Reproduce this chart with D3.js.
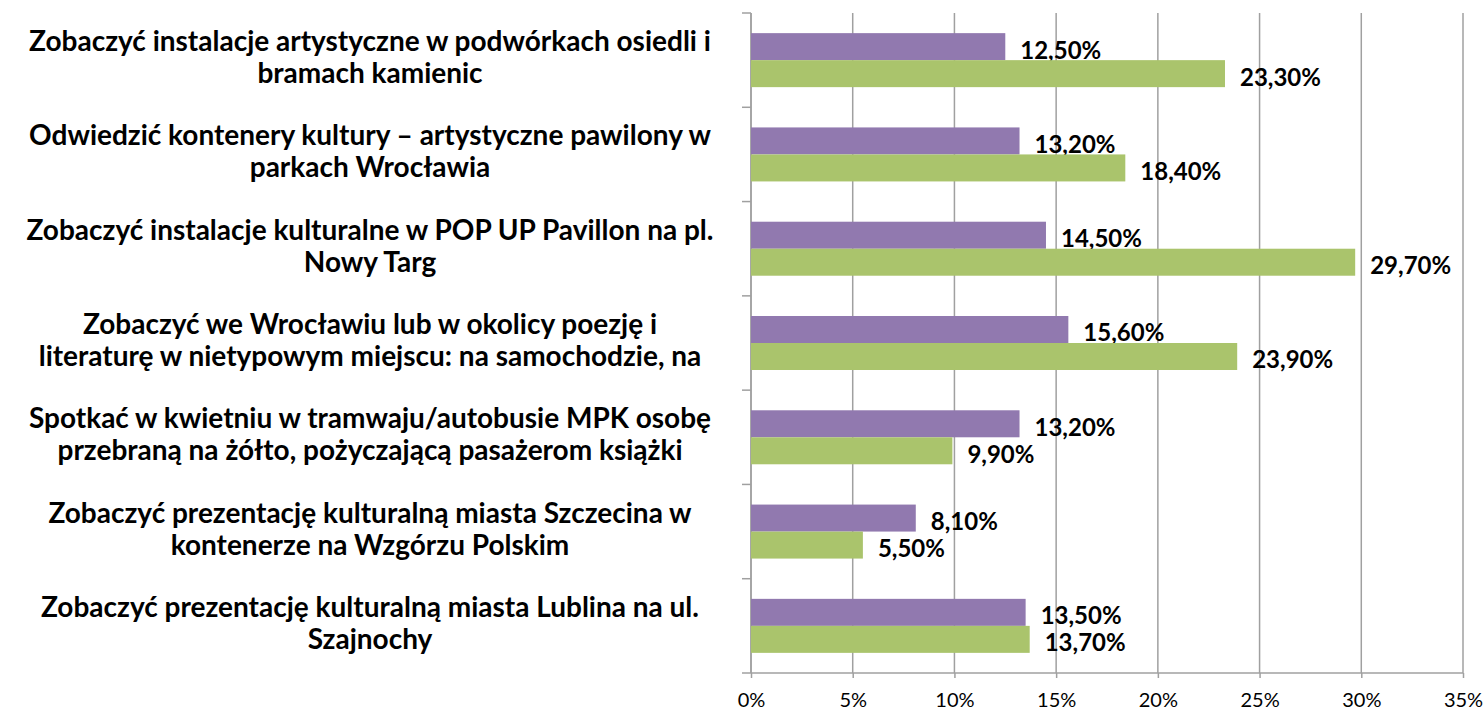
<!DOCTYPE html>
<html>
<head>
<meta charset="utf-8">
<script src="https://cdn.jsdelivr.net/npm/d3@7"></script>
<style>
  body { margin: 0; background: #fff; }
  svg { display: block; font-family: Lato, "Open Sans", sans-serif; }
</style>
</head>
<body>
<div id="chart"></div>
<script>
var categories = [
    ["Zobaczyć instalacje artystyczne w podwórkach osiedli i", "bramach kamienic"],
    ["Odwiedzić kontenery kultury – artystyczne pawilony w", "parkach Wrocławia"],
    ["Zobaczyć instalacje kulturalne w POP UP Pavillon na pl.", "Nowy Targ"],
    ["Zobaczyć we Wrocławiu lub w okolicy poezję i", "literaturę w nietypowym miejscu: na samochodzie, na"],
    ["Spotkać w kwietniu w tramwaju/autobusie MPK osobę", "przebraną na żółto, pożyczającą pasażerom książki"],
    ["Zobaczyć prezentację kulturalną miasta Szczecina w", "kontenerze na Wzgórzu Polskim"],
    ["Zobaczyć prezentację kulturalną miasta Lublina na ul.", "Szajnochy"]
];
var purpleValues = [12.5, 13.2, 14.5, 15.6, 13.2, 8.1, 13.5];
var greenValues  = [23.3, 18.4, 29.7, 23.9, 9.9, 5.5, 13.7];
var xTicks = [0, 5, 10, 15, 20, 25, 30, 35];
var seriesNames = ["purple", "green"];
var seriesColors = ["#9179AF", "#AAC46C"];

var width = 1484,
    height = 712;
var margin = {top: 13, right: 21, bottom: 39, left: 751};

var svg = d3.select("#chart").append("svg")
    .attr("width", width)
    .attr("height", height);

var x = d3.scaleLinear()
    .domain([0, 35])
    .range([margin.left, width - margin.right]);

var idx = categories.map(function(d, i) { return i; });
var y = d3.scaleBand()
    .domain(idx)
    .range([margin.top, height - margin.bottom])
    .paddingInner(0)
    .paddingOuter(0);

var ySub = d3.scaleBand()
    .domain(seriesNames)
    .range([0, y.bandwidth()])
    .paddingInner(0)
    .paddingOuter(0.746);

var gridColor = "#A0A0A0";

// vertical grid lines
svg.append("g")
    .selectAll("line")
    .data(xTicks)
    .enter().append("line")
    .attr("x1", function(d) { return x(d); })
    .attr("x2", function(d) { return x(d); })
    .attr("y1", margin.top)
    .attr("y2", height - margin.bottom)
    .attr("stroke", gridColor)
    .attr("stroke-width", 1.5);

// bottom axis
var xAxis = svg.append("g")
    .attr("transform", "translate(0," + (height - margin.bottom) + ")")
    .call(d3.axisBottom(x).tickValues(xTicks).tickSize(5).tickPadding(15)
        .tickFormat(function(d) { return d + "%"; }));
xAxis.select(".domain").attr("stroke", gridColor).attr("stroke-width", 1.5)
    .attr("d", "M" + x(0) + ",0H" + x(35));
xAxis.selectAll(".tick line").attr("stroke", gridColor).attr("stroke-width", 1.5);
xAxis.selectAll(".tick text")
    .attr("fill", "#000")
    .style("font-size", "20px")
    .style("font-family", "Lato, sans-serif");

// left axis with ticks between categories
var leftAxis = svg.append("g");
leftAxis.append("line")
    .attr("x1", x(0)).attr("x2", x(0))
    .attr("y1", margin.top).attr("y2", height - margin.bottom)
    .attr("stroke", gridColor).attr("stroke-width", 1.5);
var bounds = idx.map(function(i) { return y(i); }).concat([y.range()[1]]);
leftAxis.selectAll("line.tk")
    .data(bounds)
    .enter().append("line")
    .attr("class", "tk")
    .attr("x1", x(0) - 9).attr("x2", x(0))
    .attr("y1", function(d) { return d; })
    .attr("y2", function(d) { return d; })
    .attr("stroke", gridColor).attr("stroke-width", 1.5);

// bars
var rows = idx.map(function(i) {
    return {i: i, vals: [purpleValues[i], greenValues[i]]};
});

var group = svg.append("g").selectAll("g.row")
    .data(rows)
    .enter().append("g")
    .attr("class", "row")
    .attr("transform", function(d) { return "translate(0," + y(d.i) + ")"; });

var bar = group.selectAll("g.bar")
    .data(function(d) {
        return d.vals.map(function(v, k) { return {s: seriesNames[k], v: v, k: k}; });
    })
    .enter().append("g")
    .attr("class", "bar");

bar.append("rect")
    .attr("x", x(0))
    .attr("y", function(d) { return ySub(d.s); })
    .attr("width", function(d) { return x(d.v) - x(0); })
    .attr("height", ySub.bandwidth())
    .attr("fill", function(d) { return seriesColors[d.k]; });

bar.append("text")
    .attr("x", function(d) { return x(d.v) + 15; })
    .attr("y", function(d) { return ySub(d.s) + ySub.bandwidth() / 2 + 12; })
    .style("font-size", "24px")
    .style("font-weight", "bold")
    .attr("fill", "#000")
    .text(function(d) { return d.v.toFixed(2).replace(".", ",") + "%"; });

// category labels
var labels = svg.append("g").selectAll("text.cat")
    .data(rows)
    .enter().append("text")
    .attr("class", "cat")
    .attr("text-anchor", "middle")
    .style("font-size", "28px")
    .style("font-weight", "bold")
    .attr("fill", "#000");

labels.selectAll("tspan")
    .data(function(d) { return categories[d.i].map(function(t, k) { return {t: t, k: k, i: d.i}; }); })
    .enter().append("tspan")
    .attr("x", 370)
    .attr("y", function(d) { return y(d.i) + y.bandwidth() / 2 - 9 + d.k * 32; })
    .text(function(d) { return d.t; });
</script>
</body>
</html>
